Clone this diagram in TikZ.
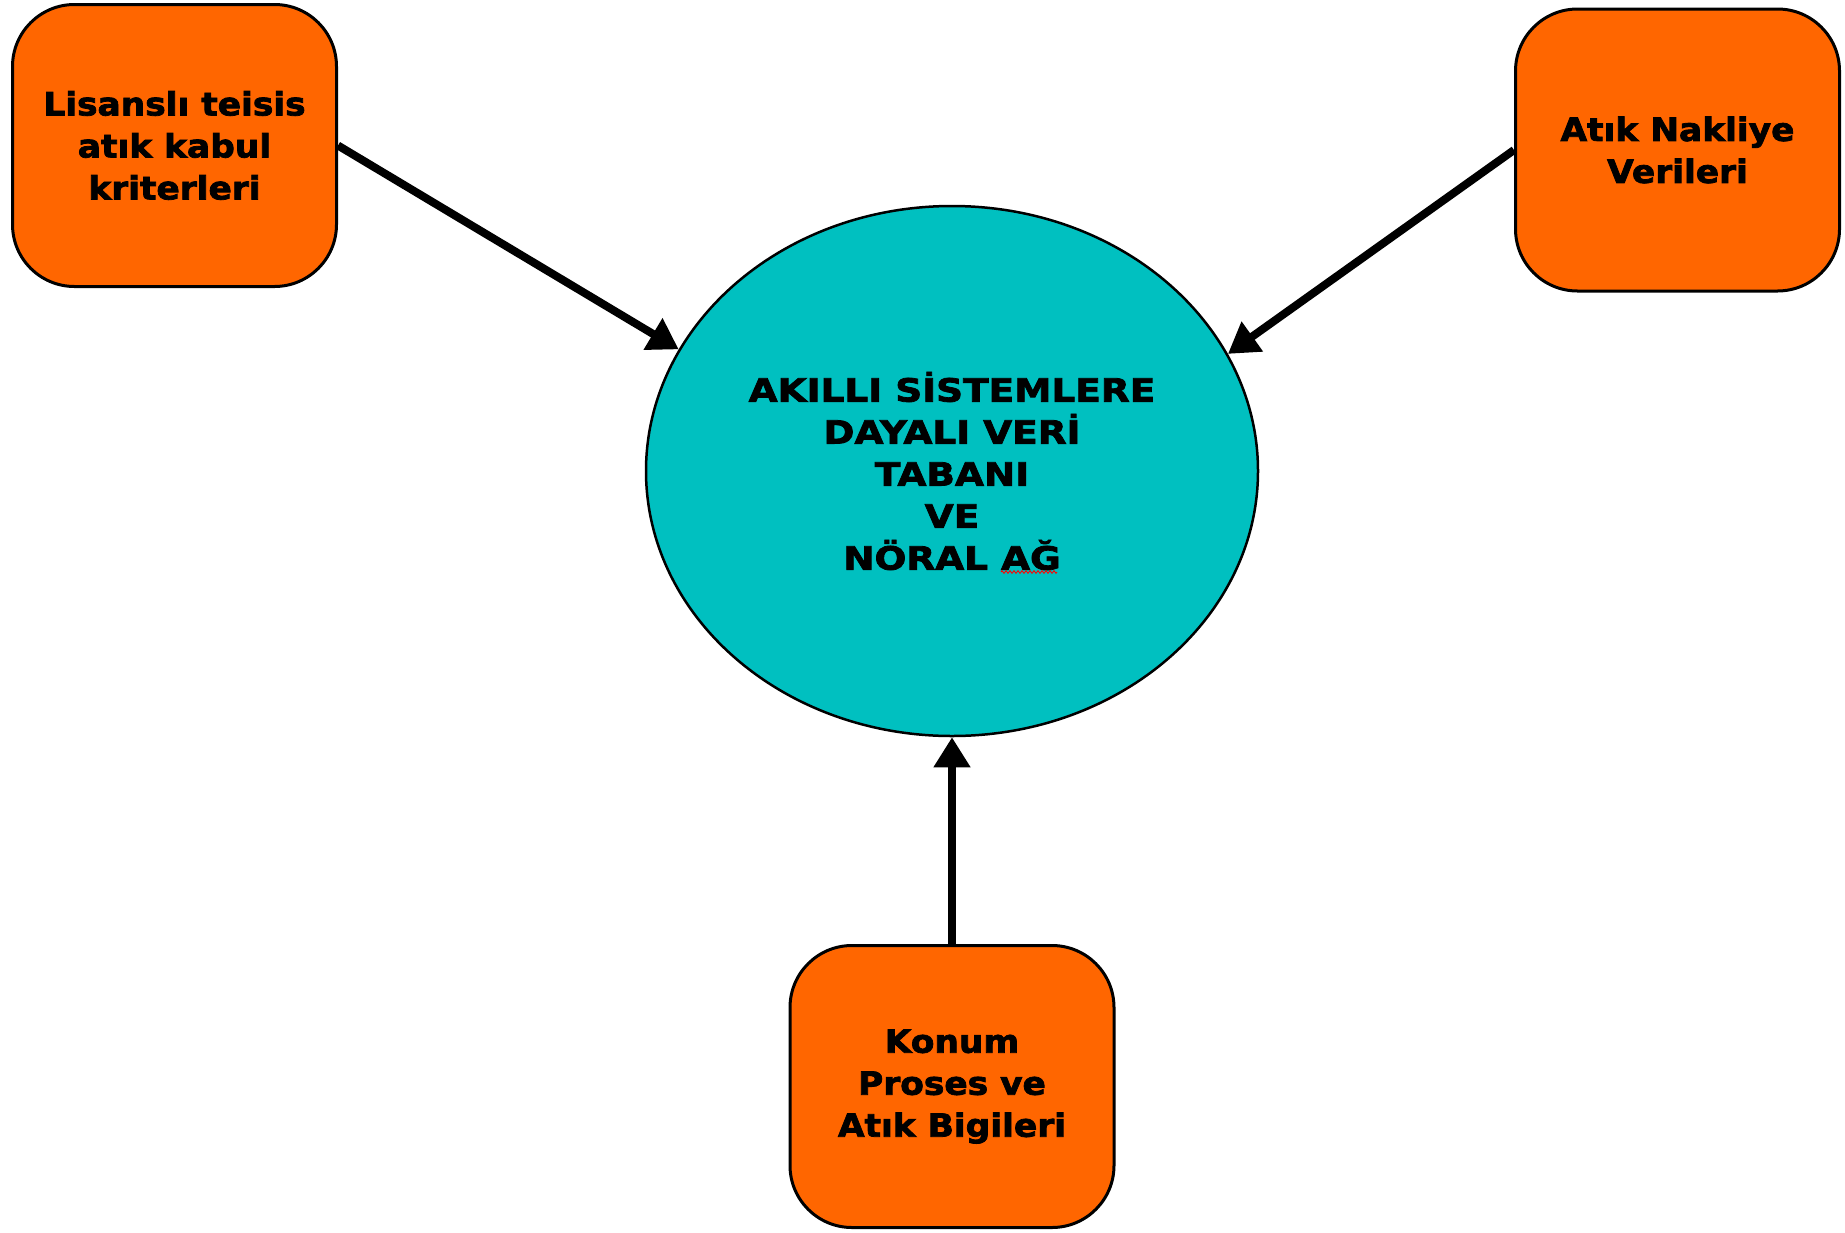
\documentclass[tikz,border=0pt]{standalone}
\usepackage{fontspec}
\setmainfont{DejaVu Sans}
\newfontfamily\boxfont[FakeStretch=1.075,FakeBold=2.4]{DejaVu Sans Bold}
\newfontfamily\corefont[FakeStretch=1.17,FakeBold=2.4]{DejaVu Sans Bold}
\usetikzlibrary{shapes.geometric,arrows.meta,decorations.pathmorphing}
\definecolor{boxorange}{RGB}{255,102,0}
\definecolor{dbteal}{RGB}{0,192,192}
\tikzset{
  source/.style={draw=black, line width=3pt, fill=boxorange, rounded corners=62pt,
    minimum width=324pt, minimum height=282pt, inner sep=0pt, align=center,
    font=\boxfont\fontsize{32}{42}\selectfont},
  core/.style={draw=black, line width=2.5pt, fill=dbteal, ellipse,
    minimum width=612pt, minimum height=530pt, inner sep=0pt, align=center,
    font=\corefont\fontsize{32}{42}\selectfont},
  feed/.style={line width=8pt, -{Triangle[length=30pt,width=35pt]}},
  spell/.style={draw=red, line width=0.9pt, decorate,
    decoration={zigzag, segment length=4pt, amplitude=1.3pt}}
}
\begin{document}
\begin{tikzpicture}[x=1pt, y=-1pt]
\useasboundingbox (0,0) rectangle (1845,1232);
% central database / neural network
\node[core] (ell) at (952,471) {AKILLI SİSTEMLERE\\DAYALI VERİ\\TABANI\\VE\\NÖRAL AĞ};
% input sources
\node[source] (lbox) at (174.5,145.5) {Lisanslı teisis\\atık kabul\\kriterleri};
\node[source] (rbox) at (1677.5,150) {Atık Nakliye\\Verileri};
\node[source] (bbox) at (952,1086.5) {Konum\\Proses ve\\Atık Bigileri};
% data flows into the centre
\draw[feed] (lbox.east) -- (ell.156.7);
\draw[feed] (rbox.west) -- (ell.23.4);
\draw[feed] (bbox.north) -- (ell.south);
% spell-check underline
\coordinate (sqa) at (1001,572);
\coordinate (sqb) at (1057,572);
\draw[spell] (sqa) -- (sqb);
\end{tikzpicture}
\end{document}
